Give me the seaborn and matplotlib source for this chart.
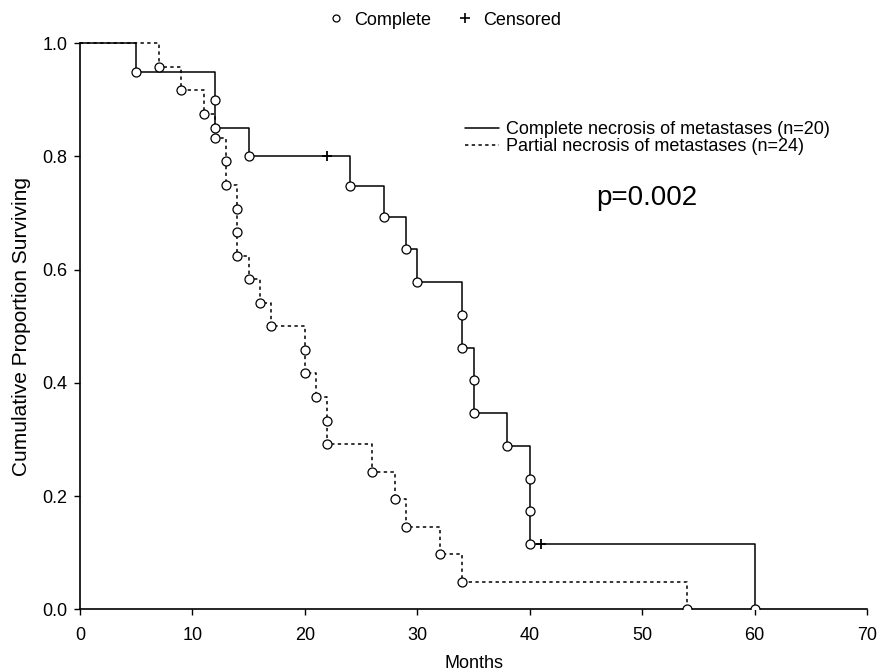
import matplotlib
matplotlib.use("Agg")
import matplotlib.pyplot as plt
from matplotlib.lines import Line2D
import seaborn as sns

# Kaplan-Meier values
complete_times = [5, 12, 12, 15, 24, 27, 29, 30, 34, 34, 35, 35, 38, 40, 40, 40, 60]
complete_surv = [0.95, 0.90, 0.85, 0.80, 0.747, 0.693, 0.636, 0.578, 0.520, 0.462,
                 0.405, 0.347, 0.289, 0.231, 0.173, 0.116, 0.0]
complete_cens_times = [22, 41]
complete_cens_surv = [0.80, 0.116]

partial_times = [7, 9, 11, 12, 13, 13, 14, 14, 14, 15, 16, 17, 20, 20, 21, 22, 22,
                 26, 28, 29, 32, 34, 54]
partial_surv = [0.958, 0.917, 0.875, 0.833, 0.792, 0.750, 0.708, 0.667, 0.625, 0.583,
                0.542, 0.500, 0.458, 0.417, 0.375, 0.333, 0.292, 0.243, 0.194, 0.146,
                0.097, 0.049, 0.0]

x_ticks = [0, 10, 20, 30, 40, 50, 60, 70]
y_ticks = [0.0, 0.2, 0.4, 0.6, 0.8, 1.0]

sns.set_theme(style="white")
plt.rcParams['font.family'] = ['Liberation Sans', 'DejaVu Sans']
plt.rcParams['text.color'] = 'black'
plt.rcParams['axes.labelcolor'] = 'black'

fig = plt.figure(figsize=(8.78, 6.72), dpi=100)
ax = fig.add_axes([0.0911, 0.0933, 0.8964, 0.8423])

# step curves start at (0, 1.0)
sns.lineplot(x=[0] + complete_times, y=[1.0] + complete_surv, drawstyle='steps-post',
             estimator=None, sort=False, color='black', lw=1.1, ax=ax, clip_on=False,
             label='Complete necrosis of metastases (n=20)')
sns.lineplot(x=[0] + partial_times, y=[1.0] + partial_surv, drawstyle='steps-post',
             estimator=None, sort=False, color='black', lw=1.1, ax=ax, clip_on=False,
             linestyle=(0, (2.2, 2.2)), label='Partial necrosis of metastases (n=24)')

# event markers
for t, s in [(complete_times, complete_surv), (partial_times, partial_surv)]:
    sns.scatterplot(x=t, y=s, marker='o', s=42, facecolor='white', edgecolor='black',
                    linewidth=0.9, zorder=3, legend=False, ax=ax)
# censored markers
sns.scatterplot(x=complete_cens_times, y=complete_cens_surv, marker='+', s=55,
                color='black', linewidth=1.3, zorder=4, legend=False, ax=ax)

ax.set_xlim(0, 70)
ax.set_ylim(0, 1.0)
ax.set_xticks(x_ticks)
ax.set_yticks(y_ticks)
ax.set_yticklabels([f"{v:.1f}" for v in y_ticks])
ax.tick_params(axis='both', direction='out', length=4, width=1, colors='black',
               labelcolor='black', labelsize=13, left=True, bottom=True)
ax.tick_params(axis='x', pad=9)
ax.tick_params(axis='y', pad=5)
sns.despine(ax=ax)
for side in ['left', 'bottom']:
    ax.spines[side].set_color('black')
    ax.spines[side].set_linewidth(1.2)

ax.set_xlabel('Months', fontsize=13, labelpad=7.5)
ax.set_ylabel('Cumulative Proportion Surviving', fontsize=15, labelpad=8)

ax.legend(loc='upper left', bbox_to_anchor=(0.489, 0.863), frameon=False,
          fontsize=13, handlelength=1.9, handletextpad=0.4, labelspacing=0.0,
          borderpad=0, borderaxespad=0)

ax.text(50.4, 0.727, 'p=0.002', fontsize=20, ha='center', va='center')

# marker key at the top
key = [Line2D([], [], marker='o', ls='none', ms=5, mfc='white', mec='black', mew=0.9),
       Line2D([], [], marker='+', ls='none', ms=7, color='black', mew=1.2)]
fig.legend(key, ['Complete', 'Censored'], loc='upper center',
           bbox_to_anchor=(0.506, 1.0), ncol=2, frameon=False, fontsize=13,
           handlelength=1.0, handletextpad=0.5, columnspacing=1.4, borderpad=0.15)

fig.savefig('out.png', dpi=100)
